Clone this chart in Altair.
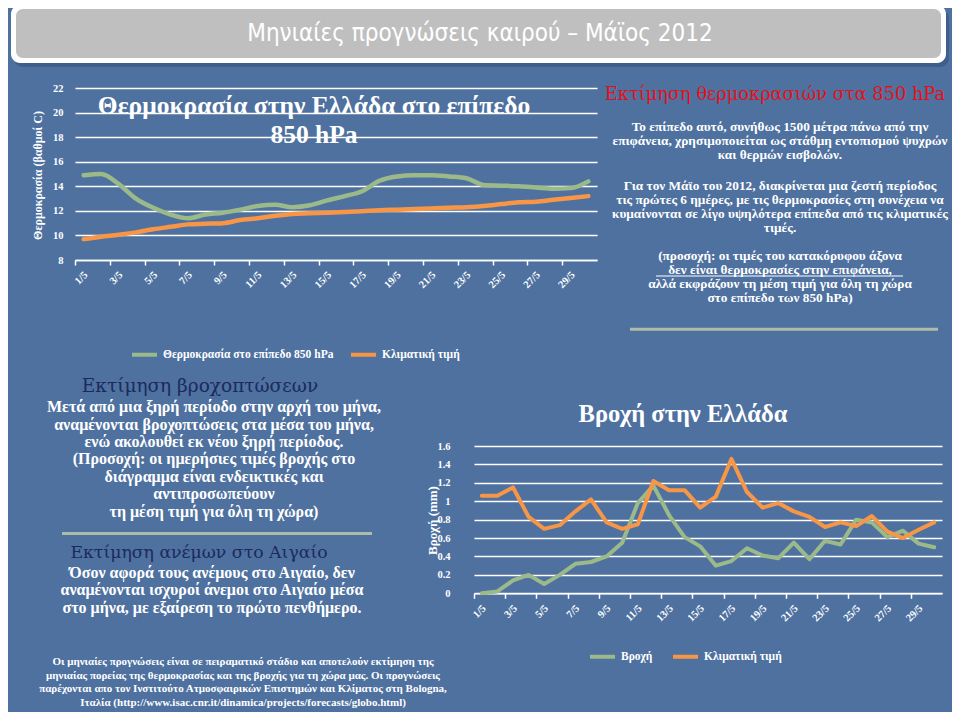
import json
import altair as alt
import pandas as pd

# ---------------- canvas / style ----------------
W, H = 944, 704
BG = "#4E719F"
GREEN = "#9CB98A"
ORANGE = "#F79646"
WHITE = "#FFFFFF"
NAVY = "#1B2A5E"
RED = "#E3121A"
RULE = "#AEBBA6"
SERIF = "Liberation Serif"
HEAD = "DejaVu Serif"
NARROW = "Liberation Sans Narrow, DejaVu Sans Condensed, Liberation Sans"

# ---------------- data ----------------
days = ["1/5", "2/5", "3/5", "4/5", "5/5", "6/5", "7/5", "8/5", "9/5", "10/5",
        "11/5", "12/5", "13/5", "14/5", "15/5", "16/5", "17/5", "18/5", "19/5", "20/5",
        "21/5", "22/5", "23/5", "24/5", "25/5", "26/5", "27/5", "28/5", "29/5", "30/5"]

temp_850 = [14.9, 15.0, 14.2, 13.0, 12.25, 11.7, 11.4, 11.7, 11.85, 12.1,
            12.4, 12.5, 12.3, 12.45, 12.85, 13.2, 13.6, 14.45, 14.8, 14.9,
            14.9, 14.8, 14.65, 14.1, 14.05, 14.0, 13.9, 13.8, 13.85, 14.4]
temp_clim = [9.7, 9.9, 10.05, 10.25, 10.5, 10.7, 10.9, 10.95, 11.0, 11.25,
             11.4, 11.6, 11.75, 11.8, 11.85, 11.9, 11.97, 12.05, 12.1, 12.15,
             12.2, 12.25, 12.3, 12.4, 12.55, 12.7, 12.75, 12.9, 13.05, 13.2]

rain = [0.0, 0.02, 0.14, 0.2, 0.1, 0.2, 0.32, 0.34, 0.4, 0.55,
        0.98, 1.17, 0.85, 0.61, 0.51, 0.30, 0.35, 0.49, 0.41, 0.38,
        0.55, 0.37, 0.57, 0.53, 0.80, 0.77, 0.61, 0.68, 0.54, 0.50]
rain_clim = [1.06, 1.06, 1.15, 0.83, 0.70, 0.74, 0.89, 1.02, 0.77, 0.70,
             0.75, 1.22, 1.12, 1.12, 0.93, 1.05, 1.46, 1.10, 0.93, 0.98,
             0.89, 0.83, 0.72, 0.77, 0.73, 0.84, 0.67, 0.60, 0.69, 0.77]

temp_series = ["Θερμοκρασία  στο  επίπεδο  850 hPa", "Κλιματική  τιμή"]
rain_series = ["Βροχή", "Κλιματική  τιμή"]
temp_ticks = [8, 10, 12, 14, 16, 18, 20, 22]
rain_ticks = [0, 0.2, 0.4, 0.6, 0.8, 1.0, 1.2, 1.4, 1.6]

banner_title = "Μηνιαίες προγνώσεις καιρού – Μάϊος 2012"
temp_title = ["Θερμοκρασία στην Ελλάδα στο επίπεδο", "850 hPa"]
temp_ytitle = "Θερμοκρασία  (βαθμοί  C)"
rain_title = "Βροχή στην Ελλάδα"
rain_ytitle = "Βροχή (mm)"

right_head = "Εκτίμηση θερμοκρασιών στα 850 hPa"
right_p1 = [
    "Το επίπεδο αυτό, συνήθως 1500 μέτρα πάνω από την",
    "επιφάνεια, χρησιμοποιείται ως στάθμη  εντοπισμού ψυχρών",
    "και θερμών εισβολών.",
]
right_p2 = [
    "Για τον Μάϊο του 2012, διακρίνεται μια ζεστή περίοδος",
    "τις πρώτες 6 ημέρες, με  τις θερμοκρασίες στη συνέχεια να",
    "κυμαίνονται σε λίγο υψηλότερα  επίπεδα από τις κλιματικές",
    "τιμές.",
]
right_p3 = [
    "(προσοχή: οι τιμές του  κατακόρυφου άξονα",
    "δεν είναι θερμοκρασίες στην επιφάνεια,",
    "αλλά εκφράζουν τη μέση τιμή για όλη τη χώρα",
    "στο επίπεδο των 850 hPa)",
]
rain_head = "Εκτίμηση βροχοπτώσεων"
rain_body = [
    "Μετά από μια ξηρή περίοδο στην αρχή του μήνα,",
    "αναμένονται βροχοπτώσεις στα μέσα του μήνα,",
    "ενώ ακολουθεί εκ νέου ξηρή περίοδος.",
    "(Προσοχή: οι ημερήσιες τιμές βροχής στο",
    "διάγραμμα είναι ενδεικτικές και",
    "αντιπροσωπεύουν",
    "τη μέση τιμή για όλη τη χώρα)",
]
wind_head = "Εκτίμηση ανέμων στο Αιγαίο"
wind_body = [
    "Όσον αφορά τους ανέμους στο Αιγαίο, δεν",
    "αναμένονται ισχυροί άνεμοι στο Αιγαίο μέσα",
    "στο μήνα, με εξαίρεση το πρώτο πενθήμερο.",
]
footer = [
    "Οι μηνιαίες προγνώσεις  είναι σε πειραματικό στάδιο και αποτελούν  εκτίμηση της",
    "μηνιαίας πορείας της θερμοκρασίας και της βροχής για τη χώρα μας. Οι προγνώσεις",
    "παρέχονται απο τον  Ινστιτούτο Ατμοσφαιρικών Επιστημών και Κλίματος στη Bologna,",
    "Ιταλία (http://www.isac.cnr.it/dinamica/projects/forecasts/globo.html)",
]

# ---------------- tables ----------------
n = len(days)
pos = list(range(1, n + 1))
temp_df = pd.DataFrame({
    "pos": pos + pos,
    "day": days + days,
    "series": [temp_series[0]] * n + [temp_series[1]] * n,
    "value": temp_850 + temp_clim,
})
rain_df = pd.DataFrame({
    "pos": pos + pos,
    "day": days + days,
    "series": [rain_series[0]] * n + [rain_series[1]] * n,
    "value": rain + rain_clim,
})
one = pd.DataFrame({"k": [0]})

tick_vals = list(range(1, n + 2, 2))
label_expr = f"datum.value <= {n} ? {json.dumps(days, ensure_ascii=False)}[datum.value - 1] : ''"

# ---------------- layout (canvas px) ----------------
TX = (67, 589)
TY = (252, 80)
RX = (466, 934)
RY = (585.3, 438)


def x_axis(x0, x1, ybase):
    cat = (x1 - x0) / n
    return alt.Axis(orient="bottom", offset=-(H - ybase), values=tick_vals,
                    tickOffset=-cat / 2, labelOffset=cat / 2 + 2, labelExpr=label_expr,
                    labelAngle=-45, labelAlign="right", labelBaseline="middle",
                    labelPadding=8, tickSize=5, tickWidth=1.5, tickColor=WHITE,
                    domainColor=WHITE, domainWidth=1.5, grid=False, title=None,
                    labelFlush=False, labelOverlap=False, labelFont=SERIF,
                    labelFontWeight="bold", labelFontSize=10.5, labelColor=WHITE)


def legend(x, y, colpad):
    return alt.Legend(orient="none", legendX=x, legendY=y, direction="horizontal",
                      title=None, symbolType="stroke", symbolSize=625,
                      symbolStrokeWidth=4, labelFont=SERIF, labelFontWeight="bold",
                      labelFontSize=11.5, labelColor=WHITE, columnPadding=colpad,
                      labelOffset=4, labelLimit=0)


temp_chart = alt.Chart(temp_df).mark_line(
    strokeWidth=4.5, interpolate="monotone", strokeCap="round", strokeJoin="round"
).encode(
    x=alt.X("pos:Q", scale=alt.Scale(domain=[0.5, n + 0.5], range=list(TX), nice=False, zero=False),
            axis=x_axis(TX[0], TX[1], TY[0])),
    y=alt.Y("value:Q", scale=alt.Scale(domain=[8, 22], range=list(TY), nice=False, zero=False),
            axis=alt.Axis(orient="left", offset=-TX[0], values=temp_ticks, grid=True,
                          gridColor=WHITE, gridWidth=1.5, domain=False, ticks=False,
                          labelPadding=12, labelFont=SERIF, labelFontWeight="bold",
                          labelFontSize=10.5, labelColor=WHITE,
                          title=temp_ytitle, titleX=29 - TX[0], titleY=167, titleAngle=270,
                          titleAlign="center", titleBaseline="middle", titleFont=SERIF,
                          titleFontWeight="bold", titleFontSize=12, titleColor=WHITE)),
    color=alt.Color("series:N", scale=alt.Scale(domain=temp_series, range=[GREEN, ORANGE]),
                    legend=legend(122, 332, 0)),
    order=alt.Order("pos:Q"),
)

rain_chart = alt.Chart(rain_df).mark_line(
    strokeWidth=4, strokeCap="round", strokeJoin="round"
).encode(
    x=alt.X("pos:Q", scale=alt.Scale(domain=[0.5, n + 0.5], range=list(RX), nice=False, zero=False),
            axis=x_axis(RX[0], RX[1], RY[0])),
    y=alt.Y("value:Q", scale=alt.Scale(domain=[0, 1.6], range=list(RY), nice=False, zero=False),
            axis=alt.Axis(orient="left", offset=-RX[0], values=rain_ticks, format="~g", grid=True,
                          gridColor=WHITE, gridWidth=1.5, domain=False, ticks=False,
                          labelPadding=24, labelFont=SERIF, labelFontWeight="bold",
                          labelFontSize=10.5, labelColor=WHITE,
                          title=rain_ytitle, titleX=424 - RX[0], titleY=512, titleAngle=270,
                          titleAlign="center", titleBaseline="middle", titleFont=SERIF,
                          titleFontWeight="bold", titleFontSize=13, titleColor=WHITE)),
    color=alt.Color("series:N", scale=alt.Scale(domain=rain_series, range=[GREEN, ORANGE]),
                    legend=legend(580, 634, 12)),
    order=alt.Order("pos:Q"),
)


# ---------------- decoration helpers ----------------
def rect(x1, x2, y1, y2, color, radius, opacity=1.0):
    return alt.Chart(one).mark_rect(color=color, cornerRadius=radius, opacity=opacity).encode(
        x=alt.value(x1), x2=alt.value(x2), y=alt.value(y1), y2=alt.value(y2))


def hrule(x1, x2, y, color, width):
    return alt.Chart(one).mark_rule(color=color, strokeWidth=width).encode(
        x=alt.value(x1), x2=alt.value(x2), y=alt.value(y))


def text1(s, x, y, size, font=SERIF, weight="normal", color=WHITE):
    return alt.Chart(one).mark_text(text=s, align="center", baseline="middle", fontSize=size,
                                    font=font, fontWeight=weight, color=color).encode(
        x=alt.value(x), y=alt.value(y))


def textn(lines, x, y_first, lh, size, font=SERIF, weight="normal", color=WHITE):
    return alt.Chart(one).mark_text(text=lines, align="center", baseline="top", lineHeight=lh,
                                    fontSize=size, font=font, fontWeight=weight,
                                    color=color).encode(
        x=alt.value(x), y=alt.value(y_first - 0.49 * size))


RB = 13.3  # right-block body size
layers = [
    # banner
    rect(6, 941, 1, 59, "#3A5782", 9, 0.7),
    rect(3, 938, -3, 55, WHITE, 9),
    rect(8, 933, 1, 50, "#BFBFBF", 7),
    text1(banner_title, 472, 26, 24, font=NARROW),
    # charts
    temp_chart,
    rain_chart,
    textn(temp_title, 306, 98.7, 28.5, 25.5, weight="bold"),
    text1(rain_title, 675, 407, 24.5, weight="bold"),
    # right block
    text1(right_head, 767, 87, 17.8, font=HEAD, color=RED),
    textn(right_p1, 772, 118.7, 14.1, RB, weight="bold"),
    textn(right_p2, 772, 177.5, 14.1, RB, weight="bold"),
    textn(right_p3, 772, 247.3, 14.1, RB, weight="bold"),
    hrule(648, 895, 268, WHITE, 1),
    hrule(622, 930, 321.3, RULE, 3),
    # left block
    text1(rain_head, 192, 378, 18.5, font=HEAD, color=NAVY),
    textn(rain_body, 206, 399, 17.4, 16, weight="bold"),
    hrule(54, 364, 525.5, RULE, 3),
    text1(wind_head, 191, 544.5, 17.3, font=HEAD, color=NAVY),
    textn(wind_body, 204, 564.5, 17.6, 16, weight="bold"),
    # footer
    textn(footer, 235, 653.5, 13.67, 11, weight="bold"),
]

chart = alt.layer(*layers).resolve_scale(
    x="independent", y="independent", color="independent"
).resolve_axis(x="independent", y="independent").resolve_legend(color="independent").properties(
    width=W, height=H, padding=0, background=BG,
    autosize=alt.AutoSizeParams(type="none"),
).configure_view(stroke="transparent")

chart.save("out.html", embed_options={"renderer": "svg", "actions": False})
